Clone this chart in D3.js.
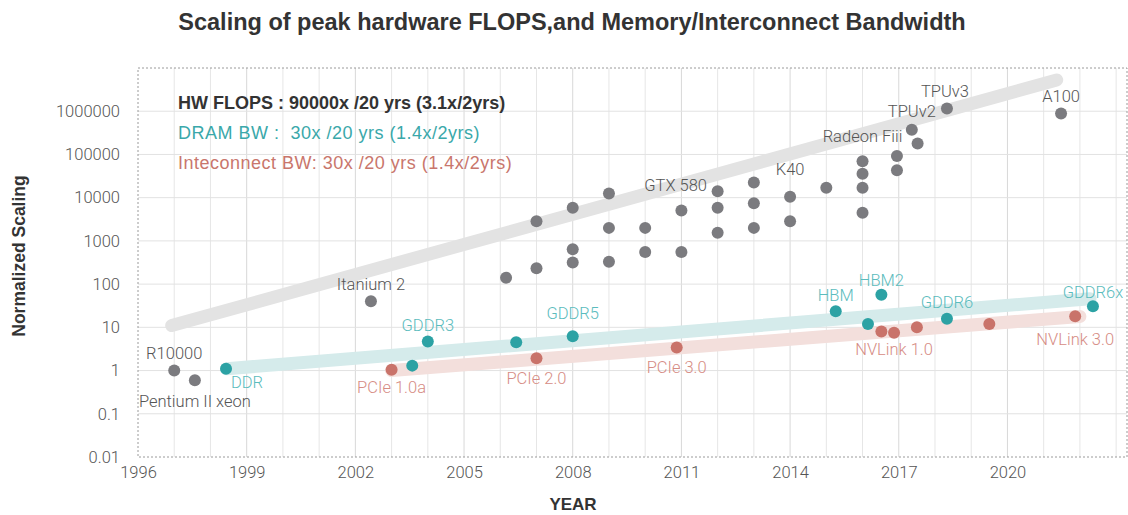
<!DOCTYPE html>
<html>
<head>
<meta charset="utf-8">
<script src="https://cdn.jsdelivr.net/npm/d3@7"></script>
<style>
  body { margin: 0; background: #fff; }
  svg { display: block; }
</style>
</head>
<body>
<svg id="chart" width="1128" height="515"></svg>
<script>
// HW FLOPS (gray)
const flopsYears  = [1997, 1997.57, 2002.43, 2006.16, 2007, 2007, 2008, 2008, 2008, 2009, 2009, 2009,
                     2010, 2010, 2011, 2011, 2012, 2012, 2012, 2013, 2013, 2013, 2014, 2014,
                     2015, 2016, 2016, 2016, 2016, 2016.95, 2016.95, 2017.36, 2017.52, 2018.33, 2021.48];
const flopsValues = [1, 0.6, 40, 140, 2860, 233, 5840, 643, 316, 12500, 2000, 328,
                     2000, 550, 5050, 550, 14100, 5840, 1540, 22500, 7460, 2000, 10500, 2860,
                     16900, 70000, 35700, 16900, 4470, 91500, 43300, 373000, 180000, 1160000, 890000];
const flopsLabels = ["R10000", "Pentium II xeon", "Itanium 2", "", "", "", "", "", "", "", "", "",
                     "", "", "", "", "GTX 580", "", "", "", "", "", "K40", "",
                     "", "Radeon Fiii", "", "", "", "", "", "TPUv2", "", "TPUv3", "A100"];

// DRAM bandwidth (teal)
const dramYears  = [1998.43, 2003.57, 2004, 2006.44, 2008, 2015.26, 2016.15, 2016.52, 2018.33, 2022.36];
const dramValues = [1.1, 1.3, 4.7, 4.5, 6.2, 23.6, 12, 57, 15.7, 30.8];
const dramLabels = ["DDR", "", "GDDR3", "", "GDDR5", "HBM", "", "HBM2", "GDDR6", "GDDR6x"];

// Interconnect bandwidth (red)
const netYears  = [2003, 2007, 2010.87, 2016.52, 2016.87, 2017.5, 2019.5, 2021.87];
const netValues = [1.05, 1.93, 3.4, 8.0, 7.5, 10, 12, 18];
const netLabels = ["PCIe 1.0a", "PCIe 2.0", "PCIe 3.0", "", "NVLink 1.0", "", "", "NVLink 3.0"];

// trend bands: [year, value] endpoints
const flopsTrend = [[1996.93, 11], [2021.36, 5300000]];
const dramTrend  = [[1998.45, 1.1], [2022.28, 46]];
const netTrend   = [[2003.0, 1.0], [2022.0, 17.8]];

const legendLines = [
  "HW FLOPS : 90000x /20 yrs (3.1x/2yrs)",
  "DRAM BW :  30x /20 yrs (1.4x/2yrs)",
  "Inteconnect BW: 30x /20 yrs (1.4x/2yrs)"
];
const xTickYears = [1996, 1999, 2002, 2005, 2008, 2011, 2014, 2017, 2020];
const yTickValues = [0.01, 0.1, 1, 10, 100, 1000, 10000, 100000, 1000000];

// label placement (dx, dy from the point)
const labelOffset = {
  "R10000": [0, -17], "Pentium II xeon": [0, 21], "Itanium 2": [0, -17],
  "GTX 580": [-42, -6], "K40": [0, -27], "Radeon Fiii": [0, -25],
  "TPUv2": [0, -18], "TPUv3": [-2, -17], "A100": [0, -17],
  "DDR": [21, 14], "GDDR3": [0, -16], "GDDR5": [0, -23], "HBM": [0, -16],
  "HBM2": [0, -14], "GDDR6": [0, -16], "GDDR6x": [0, -14],
  "PCIe 1.0a": [0, 18], "PCIe 2.0": [0, 20], "PCIe 3.0": [0, 20],
  "NVLink 1.0": [0, 17], "NVLink 3.0": [0, 23]
};

const svg = d3.select("#chart");
const plotL = 138, plotR = 1127, plotT = 68, plotB = 457;
const labelFont = "Roboto, 'Liberation Sans', sans-serif";
const boldFont = "'Liberation Sans', Arial, sans-serif";

var x = d3.scaleLinear().domain([1996, 2023.3]).range([plotL, plotR]);
var y = d3.scaleLog().domain([0.01, 1e7]).range([plotB, plotT]);

// grid
const gridYears = d3.range(1997, 2024);
svg.append("g").selectAll("line")
  .data(gridYears)
  .enter().append("line")
    .attr("x1", d => x(d)).attr("x2", d => x(d))
    .attr("y1", plotT).attr("y2", plotB)
    .attr("stroke", d => xTickYears.includes(d) ? "#d8d8d8" : "#e6e6e6")
    .attr("stroke-width", 1);
svg.append("g").selectAll("line")
  .data(yTickValues.slice(1))
  .enter().append("line")
    .attr("x1", plotL).attr("x2", plotR)
    .attr("y1", d => y(d)).attr("y2", d => y(d))
    .attr("stroke", "#e2e2e2")
    .attr("stroke-width", 1);

// dotted frame
svg.append("rect")
  .attr("x", plotL).attr("y", plotT)
  .attr("width", plotR - plotL).attr("height", plotB - plotT)
  .attr("fill", "none")
  .attr("stroke", "#9a9a9a")
  .attr("stroke-dasharray", "2,2");

// axes
var xAxis = svg.append("g")
  .attr("transform", "translate(0," + plotB + ")")
  .call(d3.axisBottom(x).tickValues(xTickYears).tickFormat(d3.format("d")).tickSize(0).tickPadding(9));
var yAxis = svg.append("g")
  .attr("transform", "translate(" + plotL + ",0)")
  .call(d3.axisLeft(y).tickValues(yTickValues).tickFormat(d => String(d)).tickSize(0).tickPadding(18));
[xAxis, yAxis].forEach(function(a) {
  a.select(".domain").remove();
  a.selectAll("text")
    .style("font-family", labelFont)
    .style("font-weight", 300)
    .style("font-size", "16.5px")
    .style("fill", "#555");
});

// trend bands
const line = d3.line().x(d => x(d[0])).y(d => y(d[1]));
[[flopsTrend, "#e3e3e3"], [dramTrend, "#d5ebeb"], [netTrend, "#f3dfdc"]].forEach(function(t) {
  svg.append("path")
    .datum(t[0])
    .attr("d", line)
    .attr("fill", "none")
    .attr("stroke", t[1])
    .attr("stroke-width", 13)
    .attr("stroke-linecap", "round");
});

// points + labels
function drawSeries(years, values, labels, dotColor, textColor) {
  var pts = years.map((yr, i) => ({ year: yr, value: values[i], label: labels[i] }));
  var g = svg.append("g");
  g.selectAll("circle")
    .data(pts)
    .enter().append("circle")
      .attr("cx", d => x(d.year))
      .attr("cy", d => y(d.value))
      .attr("r", 6)
      .attr("fill", dotColor);
  g.selectAll("text")
    .data(pts.filter(d => d.label))
    .enter().append("text")
      .attr("x", d => x(d.year) + labelOffset[d.label][0])
      .attr("y", d => y(d.value) + labelOffset[d.label][1])
      .attr("text-anchor", "middle")
      .attr("dominant-baseline", "central")
      .style("font-family", labelFont)
      .style("font-weight", 300)
      .style("font-size", "16.5px")
      .style("fill", textColor)
      .text(d => d.label);
}
drawSeries(flopsYears, flopsValues, flopsLabels, "#7b7b7f", "#555");
drawSeries(dramYears, dramValues, dramLabels, "#2ca2a4", "#5bbcbd");
drawSeries(netYears, netValues, netLabels, "#c9736a", "#d68c84");

// legend text
const legendColors = ["#333", "#3aa8aa", "#c9766c"];
svg.append("g").selectAll("text")
  .data(legendLines)
  .enter().append("text")
    .attr("x", 178)
    .attr("y", (d, i) => 103 + i * 30)
    .attr("dominant-baseline", "central")
    .attr("xml:space", "preserve")
    .style("white-space", "pre")
    .style("font-family", boldFont)
    .style("font-weight", (d, i) => i === 0 ? "bold" : "normal")
    .style("letter-spacing", (d, i) => i === 0 ? "0px" : "0.5px")
    .style("font-size", "18px")
    .style("fill", (d, i) => legendColors[i])
    .text(d => d);

// titles
svg.append("text")
  .attr("x", 572).attr("y", 22)
  .attr("text-anchor", "middle")
  .attr("dominant-baseline", "central")
  .style("font-family", boldFont)
  .style("font-weight", "bold")
  .style("font-size", "23.5px")
  .style("fill", "#333")
  .text("Scaling of peak hardware FLOPS,and Memory/Interconnect Bandwidth");

svg.append("text")
  .attr("x", 573).attr("y", 504)
  .attr("text-anchor", "middle")
  .attr("dominant-baseline", "central")
  .style("font-family", boldFont)
  .style("font-weight", "bold")
  .style("font-size", "17px")
  .style("fill", "#333")
  .text("YEAR");

svg.append("text")
  .attr("transform", "translate(19,256) rotate(-90)")
  .attr("text-anchor", "middle")
  .attr("dominant-baseline", "central")
  .style("font-family", boldFont)
  .style("font-weight", "bold")
  .style("font-size", "17.5px")
  .style("fill", "#333")
  .text("Normalized Scaling");
</script>
</body>
</html>
